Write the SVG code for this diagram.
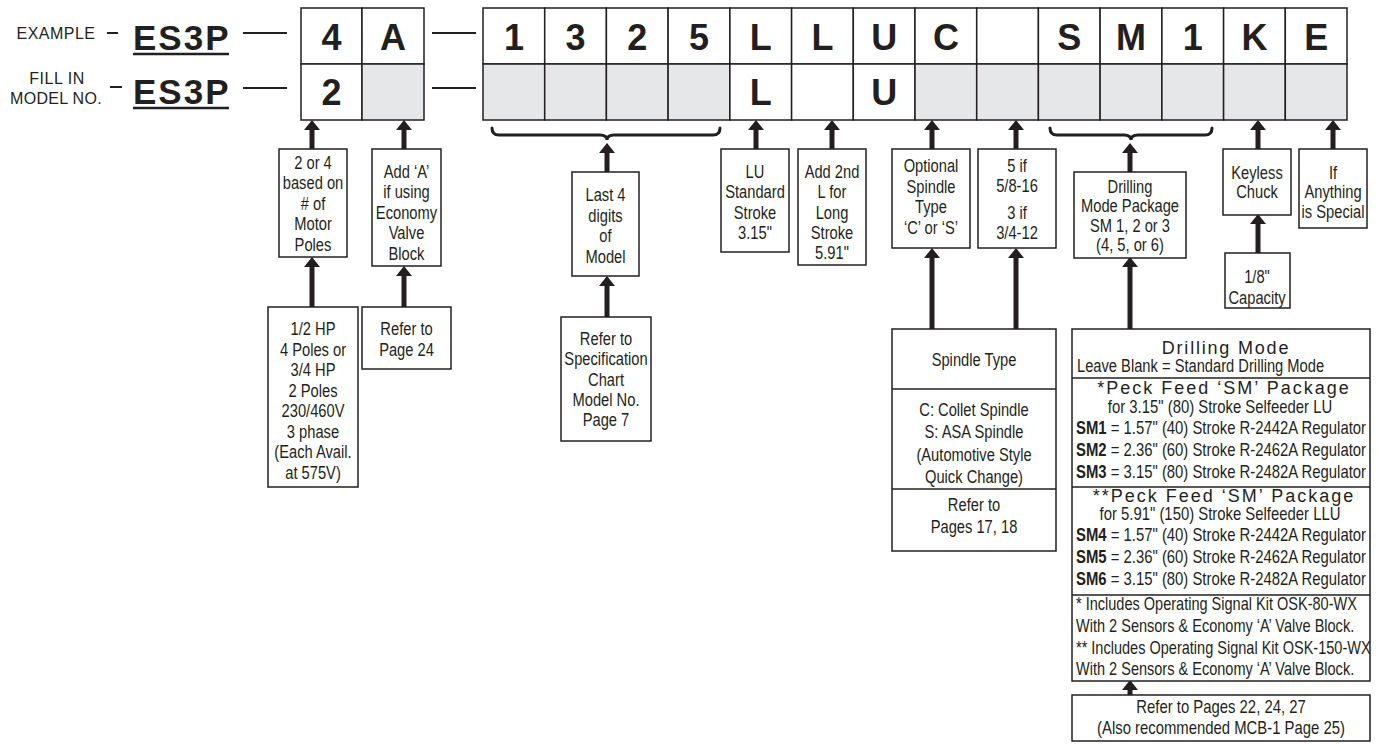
<svg xmlns="http://www.w3.org/2000/svg" width="1379" height="744" viewBox="0 0 1379 744">
<style>
.bg{fill:#fff}
.cell{fill:#fff;stroke:#231f20;stroke-width:1.5}
.box{fill:#fff;stroke:#231f20;stroke-width:1.5}
.div{stroke:#231f20;stroke-width:1.5}
.big{font-family:"Liberation Sans",Arial,sans-serif;font-weight:bold;font-size:36px;fill:#231f20;text-anchor:middle}
.es{font-family:"Liberation Sans",Arial,sans-serif;font-weight:bold;font-size:35px;fill:#231f20;letter-spacing:2px}
.lab{font-family:"Liberation Sans",Arial,sans-serif;font-size:16px;fill:#231f20;text-anchor:middle}
.t{font-family:"Liberation Sans",Arial,sans-serif;font-size:17.5px;fill:#231f20;text-anchor:middle}
.tl{font-family:"Liberation Sans",Arial,sans-serif;font-size:17.5px;fill:#231f20}
.h{font-family:"Liberation Sans",Arial,sans-serif;font-size:18px;fill:#231f20;text-anchor:middle}
.dash{stroke:#231f20;stroke-width:2}
.conn{stroke:#231f20;stroke-width:5;fill:none}
.brace{stroke:#231f20;stroke-width:3;fill:none;stroke-linecap:round}
</style>
<defs>
<marker id="ah" markerUnits="userSpaceOnUse" markerWidth="10" markerHeight="16" viewBox="0 0 10 16" refX="0" refY="8" orient="auto">
<path d="M0,0 L10,8 L0,16 z" fill="#231f20"/>
</marker>
</defs>
<rect class="bg" x="0" y="0" width="1379" height="744"/>

<g id="labels">
<text class="lab" x="56" y="39" letter-spacing="0.5">EXAMPLE</text>
<line class="dash" x1="107" y1="33" x2="118" y2="33"/>
<text class="lab" x="57" y="84" letter-spacing="0.5">FILL IN</text>
<text class="lab" x="56" y="104" letter-spacing="0.3">MODEL NO.</text>
<line class="dash" x1="110" y1="87" x2="122" y2="87"/>
<text class="es" x="133" y="50">ES3P</text>
<line x1="133" y1="54" x2="229" y2="54" stroke="#231f20" stroke-width="2.5"/>
<text class="es" x="133" y="104">ES3P</text>
<line x1="133" y1="108" x2="229" y2="108" stroke="#231f20" stroke-width="2.5"/>
<line class="dash" x1="243" y1="33" x2="287" y2="33"/>
<line class="dash" x1="243" y1="88" x2="287" y2="88"/>
<line class="dash" x1="432" y1="33" x2="476" y2="33"/>
<line class="dash" x1="432" y1="88" x2="476" y2="88"/>
</g>

<g id="grid1">
<rect class="cell" x="301" y="8" width="61" height="56"/>
<rect class="cell" x="362" y="8" width="62" height="56"/>
<rect class="cell" x="301" y="64" width="61" height="56"/>
<rect class="cell" x="362" y="64" width="62" height="56" style="fill:#e6e7e8"/>
<text class="big" x="331.5" y="50">4</text>
<text class="big" x="393" y="50">A</text>
<text class="big" x="331.5" y="105">2</text>
</g>

<g id="grid2">
<g class="cell">
<rect x="483" y="8" width="61.7" height="56"/>
<rect x="544.7" y="8" width="61.7" height="56"/>
<rect x="606.4" y="8" width="61.7" height="56"/>
<rect x="668.1" y="8" width="61.7" height="56"/>
<rect x="729.9" y="8" width="61.7" height="56"/>
<rect x="791.6" y="8" width="61.7" height="56"/>
<rect x="853.3" y="8" width="61.7" height="56"/>
<rect x="915" y="8" width="61.7" height="56"/>
<rect x="976.7" y="8" width="61.7" height="56"/>
<rect x="1038.4" y="8" width="61.7" height="56"/>
<rect x="1100.1" y="8" width="61.7" height="56"/>
<rect x="1161.9" y="8" width="61.7" height="56"/>
<rect x="1223.6" y="8" width="61.7" height="56"/>
<rect x="1285.3" y="8" width="61.7" height="56"/>
</g>
<g class="cell" style="fill:#e6e7e8">
<rect x="483" y="64" width="61.7" height="56"/>
<rect x="544.7" y="64" width="61.7" height="56"/>
<rect x="606.4" y="64" width="61.7" height="56"/>
<rect x="668.1" y="64" width="61.7" height="56"/>
<rect x="729.9" y="64" width="61.7" height="56" style="fill:#fff"/>
<rect x="791.6" y="64" width="61.7" height="56" style="fill:#fff"/>
<rect x="853.3" y="64" width="61.7" height="56" style="fill:#fff"/>
<rect x="915" y="64" width="61.7" height="56"/>
<rect x="976.7" y="64" width="61.7" height="56"/>
<rect x="1038.4" y="64" width="61.7" height="56"/>
<rect x="1100.1" y="64" width="61.7" height="56"/>
<rect x="1161.9" y="64" width="61.7" height="56"/>
<rect x="1223.6" y="64" width="61.7" height="56"/>
<rect x="1285.3" y="64" width="61.7" height="56"/>
</g>
<text class="big" x="513.9" y="50">1</text>
<text class="big" x="575.6" y="50">3</text>
<text class="big" x="637.3" y="50">2</text>
<text class="big" x="699" y="50">5</text>
<text class="big" x="760.8" y="50">L</text>
<text class="big" x="822.5" y="50">L</text>
<text class="big" x="884.2" y="50">U</text>
<text class="big" x="945.9" y="50">C</text>
<text class="big" x="1069.3" y="50">S</text>
<text class="big" x="1131" y="50">M</text>
<text class="big" x="1192.8" y="50">1</text>
<text class="big" x="1254.5" y="50">K</text>
<text class="big" x="1316.2" y="50">E</text>
<text class="big" x="760.8" y="105">L</text>
<text class="big" x="884.2" y="105">U</text>
</g>

<g id="connectors">
<path class="brace" d="M492,128 Q492,135 499,135 L600,135 Q607,135 607,140 Q607,135 614,135 L713,135 Q720,135 720,128"/>
<path class="brace" d="M1050,128 Q1050,135 1057,135 L1124,135 Q1131,135 1131,140 Q1131,135 1138,135 L1205,135 Q1212,135 1212,128"/>
<line class="conn" x1="312" y1="149" x2="312" y2="130" marker-end="url(#ah)"/>
<line class="conn" x1="404" y1="149" x2="404" y2="130" marker-end="url(#ah)"/>
<line class="conn" x1="607" y1="172" x2="607" y2="153" marker-end="url(#ah)"/>
<line class="conn" x1="756" y1="149" x2="756" y2="130" marker-end="url(#ah)"/>
<line class="conn" x1="832" y1="149" x2="832" y2="130" marker-end="url(#ah)"/>
<line class="conn" x1="932" y1="149" x2="932" y2="130" marker-end="url(#ah)"/>
<line class="conn" x1="1016" y1="149" x2="1016" y2="130" marker-end="url(#ah)"/>
<line class="conn" x1="1130" y1="172" x2="1130" y2="153" marker-end="url(#ah)"/>
<line class="conn" x1="1258" y1="149" x2="1258" y2="130" marker-end="url(#ah)"/>
<line class="conn" x1="1333" y1="149" x2="1333" y2="130" marker-end="url(#ah)"/>
<line class="conn" x1="312" y1="307" x2="312" y2="267" marker-end="url(#ah)"/>
<line class="conn" x1="404" y1="307" x2="404" y2="276" marker-end="url(#ah)"/>
<line class="conn" x1="607" y1="317" x2="607" y2="286" marker-end="url(#ah)"/>
<line class="conn" x1="932" y1="329" x2="932" y2="258" marker-end="url(#ah)"/>
<line class="conn" x1="1016" y1="329" x2="1016" y2="258" marker-end="url(#ah)"/>
<line class="conn" x1="1130" y1="329" x2="1130" y2="267" marker-end="url(#ah)"/>
<line class="conn" x1="1258" y1="253" x2="1258" y2="224" marker-end="url(#ah)"/>
<line class="conn" x1="1130" y1="695" x2="1130" y2="690" marker-end="url(#ah)"/>
</g>

<g id="motor-poles">
<rect class="box" x="279" y="149" width="68" height="108"/>
<text class="t" transform="translate(313 169) scale(.84 1)">2 or 4</text>
<text class="t" transform="translate(313 189) scale(.84 1)">based on</text>
<text class="t" transform="translate(313 210) scale(.84 1)"># of</text>
<text class="t" transform="translate(313 230) scale(.84 1)">Motor</text>
<text class="t" transform="translate(313 251) scale(.84 1)">Poles</text>
</g>
<g id="motor-spec">
<rect class="box" x="268" y="307" width="90" height="180"/>
<text class="t" transform="translate(313 335) scale(.84 1)">1/2 HP</text>
<text class="t" transform="translate(313 356) scale(.84 1)">4 Poles or</text>
<text class="t" transform="translate(313 376) scale(.84 1)">3/4 HP</text>
<text class="t" transform="translate(313 397) scale(.84 1)">2 Poles</text>
<text class="t" transform="translate(313 417) scale(.84 1)">230/460V</text>
<text class="t" transform="translate(313 438) scale(.84 1)">3 phase</text>
<text class="t" transform="translate(313 458) scale(.84 1)">(Each Avail.</text>
<text class="t" transform="translate(313 479) scale(.84 1)">at 575V)</text>
</g>
<g id="valve">
<rect class="box" x="372" y="149" width="69" height="117"/>
<text class="t" transform="translate(406.5 178) scale(.84 1)">Add ‘A’</text>
<text class="t" transform="translate(406.5 198) scale(.84 1)">if using</text>
<text class="t" transform="translate(406.5 219) scale(.84 1)">Economy</text>
<text class="t" transform="translate(406.5 239) scale(.84 1)">Valve</text>
<text class="t" transform="translate(406.5 260) scale(.84 1)">Block</text>
</g>
<g id="valve-ref">
<rect class="box" x="362" y="307" width="89" height="62"/>
<text class="t" transform="translate(406.5 335) scale(.84 1)">Refer to</text>
<text class="t" transform="translate(406.5 356) scale(.84 1)">Page 24</text>
</g>
<g id="last4">
<rect class="box" x="572" y="172" width="67" height="104"/>
<text class="t" transform="translate(605.5 201) scale(.84 1)">Last 4</text>
<text class="t" transform="translate(605.5 222) scale(.84 1)">digits</text>
<text class="t" transform="translate(605.5 242) scale(.84 1)">of</text>
<text class="t" transform="translate(605.5 263) scale(.84 1)">Model</text>
</g>
<g id="spec-ref">
<rect class="box" x="561" y="317" width="90" height="124"/>
<text class="t" transform="translate(606 345) scale(.84 1)">Refer to</text>
<text class="t" transform="translate(606 365) scale(.84 1)">Specification</text>
<text class="t" transform="translate(606 386) scale(.84 1)">Chart</text>
<text class="t" transform="translate(606 406) scale(.84 1)">Model No.</text>
<text class="t" transform="translate(606 426) scale(.84 1)">Page 7</text>
</g>
<g id="lu">
<rect class="box" x="721" y="149" width="68" height="103"/>
<text class="t" transform="translate(755 178) scale(.84 1)">LU</text>
<text class="t" transform="translate(755 198) scale(.84 1)">Standard</text>
<text class="t" transform="translate(755 219) scale(.84 1)">Stroke</text>
<text class="t" transform="translate(755 239) scale(.84 1)">3.15"</text>
</g>
<g id="long-stroke">
<rect class="box" x="798" y="149" width="68" height="116"/>
<text class="t" transform="translate(832 178) scale(.84 1)">Add 2nd</text>
<text class="t" transform="translate(832 198) scale(.84 1)">L for</text>
<text class="t" transform="translate(832 219) scale(.84 1)">Long</text>
<text class="t" transform="translate(832 239) scale(.84 1)">Stroke</text>
<text class="t" transform="translate(832 259) scale(.84 1)">5.91"</text>
</g>
<g id="spindle-opt">
<rect class="box" x="892" y="149" width="78" height="99"/>
<text class="t" transform="translate(931 172) scale(.84 1)">Optional</text>
<text class="t" transform="translate(931 193) scale(.84 1)">Spindle</text>
<text class="t" transform="translate(931 213) scale(.84 1)">Type</text>
<text class="t" transform="translate(931 234) scale(.84 1)">‘C’ or ‘S’</text>
</g>
<g id="thread">
<rect class="box" x="978" y="149" width="78" height="99"/>
<text class="t" transform="translate(1017 172) scale(.84 1)">5 if</text>
<text class="t" transform="translate(1017 192) scale(.84 1)">5/8-16</text>
<text class="t" transform="translate(1017 219) scale(.84 1)">3 if</text>
<text class="t" transform="translate(1017 239) scale(.84 1)">3/4-12</text>
</g>
<g id="spindle-type">
<rect class="box" x="892" y="329" width="164" height="222"/>
<line class="div" x1="892" y1="389" x2="1056" y2="389"/>
<line class="div" x1="892" y1="489" x2="1056" y2="489"/>
<text class="t" transform="translate(974 366) scale(.84 1)">Spindle Type</text>
<text class="t" transform="translate(974 416) scale(.84 1)">C: Collet Spindle</text>
<text class="t" transform="translate(974 438) scale(.84 1)">S: ASA Spindle</text>
<text class="t" transform="translate(974 461) scale(.84 1)">(Automotive Style</text>
<text class="t" transform="translate(974 483) scale(.84 1)">Quick Change)</text>
<text class="t" transform="translate(974 511) scale(.84 1)">Refer to</text>
<text class="t" transform="translate(974 533) scale(.84 1)">Pages 17, 18</text>
</g>
<g id="drill-pkg">
<rect class="box" x="1074" y="172" width="112" height="86"/>
<text class="t" transform="translate(1130 193) scale(.84 1)">Drilling</text>
<text class="t" transform="translate(1130 212) scale(.84 1)">Mode Package</text>
<text class="t" transform="translate(1130 232) scale(.84 1)">SM 1, 2 or 3</text>
<text class="t" transform="translate(1130 251) scale(.84 1)">(4, 5, or 6)</text>
</g>
<g id="keyless">
<rect class="box" x="1223" y="149" width="68" height="66"/>
<text class="t" transform="translate(1257 179) scale(.84 1)">Keyless</text>
<text class="t" transform="translate(1257 198) scale(.84 1)">Chuck</text>
</g>
<g id="capacity">
<rect class="box" x="1225" y="253" width="65" height="55"/>
<text class="t" transform="translate(1257 283) scale(.84 1)">1/8"</text>
<text class="t" transform="translate(1257 304) scale(.84 1)">Capacity</text>
</g>
<g id="special">
<rect class="box" x="1299" y="149" width="68" height="79"/>
<text class="t" transform="translate(1333 179) scale(.84 1)">If</text>
<text class="t" transform="translate(1333 198) scale(.84 1)">Anything</text>
<text class="t" transform="translate(1333 218) scale(.84 1)">is Special</text>
</g>
<g id="drilling-mode">
<rect class="box" x="1072" y="329" width="298" height="352"/>
<line class="div" x1="1072" y1="378" x2="1370" y2="378"/>
<line class="div" x1="1072" y1="487" x2="1370" y2="487"/>
<line class="div" x1="1072" y1="595" x2="1370" y2="595"/>
<text class="h" x="1226" y="354" letter-spacing="1.8">Drilling Mode</text>
<text class="tl" transform="translate(1077 372) scale(.84 1)">Leave Blank = Standard Drilling Mode</text>
<text class="h" x="1224" y="394" letter-spacing="2">*Peck Feed ‘SM’ Package</text>
<text class="t" transform="translate(1220 413) scale(.85 1)">for 3.15" (80) Stroke Selfeeder LU</text>
<text class="tl" transform="translate(1076 434) scale(.85 1)"><tspan font-weight="bold">SM1</tspan> = 1.57" (40) Stroke R-2442A Regulator</text>
<text class="tl" transform="translate(1076 456) scale(.85 1)"><tspan font-weight="bold">SM2</tspan> = 2.36" (60) Stroke R-2462A Regulator</text>
<text class="tl" transform="translate(1076 478) scale(.85 1)"><tspan font-weight="bold">SM3</tspan> = 3.15" (80) Stroke R-2482A Regulator</text>
<text class="h" x="1224" y="502" letter-spacing="2">**Peck Feed ‘SM’ Package</text>
<text class="t" transform="translate(1220 520) scale(.85 1)">for 5.91" (150) Stroke Selfeeder LLU</text>
<text class="tl" transform="translate(1076 541) scale(.85 1)"><tspan font-weight="bold">SM4</tspan> = 1.57" (40) Stroke R-2442A Regulator</text>
<text class="tl" transform="translate(1076 563) scale(.85 1)"><tspan font-weight="bold">SM5</tspan> = 2.36" (60) Stroke R-2462A Regulator</text>
<text class="tl" transform="translate(1076 585) scale(.85 1)"><tspan font-weight="bold">SM6</tspan> = 3.15" (80) Stroke R-2482A Regulator</text>
<text class="tl" transform="translate(1076 610) scale(.83 1)">* Includes Operating Signal Kit OSK-80-WX</text>
<text class="tl" transform="translate(1076 632) scale(.83 1)">With 2 Sensors &amp; Economy ‘A’ Valve Block.</text>
<text class="tl" transform="translate(1076 654) scale(.83 1)">** Includes Operating Signal Kit OSK-150-WX</text>
<text class="tl" transform="translate(1076 675) scale(.83 1)">With 2 Sensors &amp; Economy ‘A’ Valve Block.</text>
</g>
<g id="drill-ref">
<rect class="box" x="1072" y="695" width="298" height="46"/>
<text class="t" transform="translate(1221 713) scale(.85 1)">Refer to Pages 22, 24, 27</text>
<text class="t" transform="translate(1221 734) scale(.85 1)">(Also recommended MCB-1 Page 25)</text>
</g>
</svg>
